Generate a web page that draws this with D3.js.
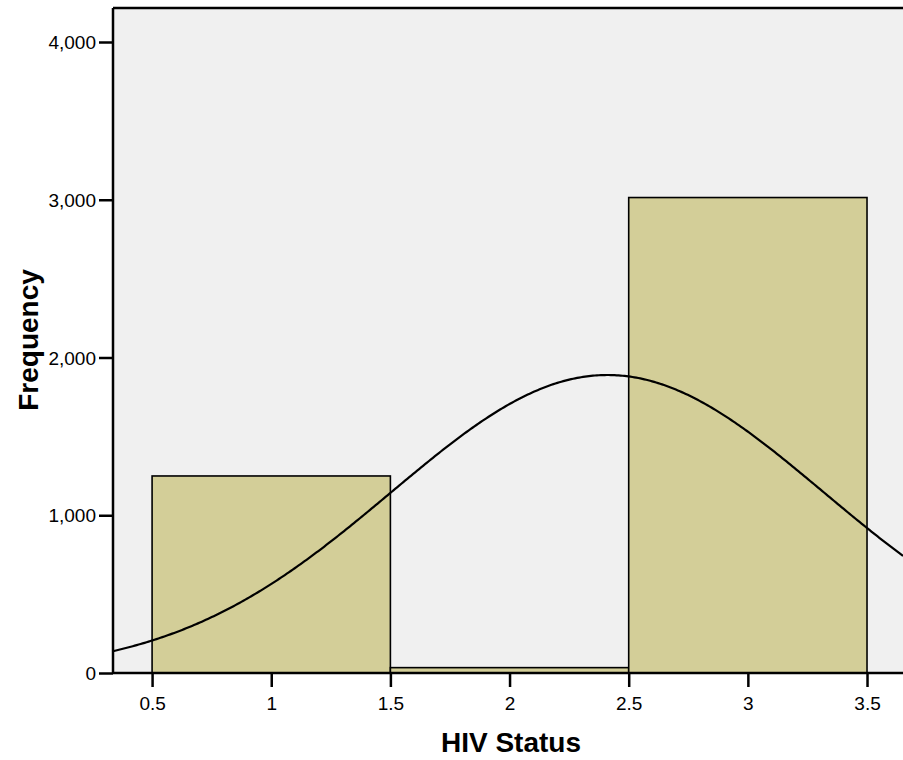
<!DOCTYPE html>
<html>
<head>
<meta charset="utf-8">
<script src="https://cdn.jsdelivr.net/npm/d3@7"></script>
<style>
  body { margin: 0; background: #fff; }
  svg { display: block; font-family: "Liberation Sans", Arial, sans-serif; }
</style>
</head>
<body>
<svg id="chart"></svg>
<script>
// Histogram bins (HIV Status) and their frequencies
const binStarts = [0.5, 1.5, 2.5];
const binEnds = [1.5, 2.5, 3.5];
const binMids = [1, 2, 3];
const frequencies = [1249, 34, 3014];
const xTicks = [0.5, 1, 1.5, 2, 2.5, 3, 3.5];
const yTicks = [0, 1000, 2000, 3000, 4000];

const width = 903;
const height = 760;
const margin = { top: 8, right: 0, bottom: 87, left: 113 };
const baseY = height - margin.bottom;

const svg = d3.select('#chart').attr('width', width).attr('height', height);

const x = d3.scaleLinear()
  .domain([0.336, 3.651])
  .range([margin.left, width - margin.right]);

const y = d3.scaleLinear()
  .domain([0, 4000])
  .range([baseY, 42]);

// Plot background
svg.append('rect')
  .attr('x', margin.left)
  .attr('y', margin.top)
  .attr('width', width - margin.left - margin.right)
  .attr('height', baseY - margin.top)
  .attr('fill', '#f0f0f0');

svg.append('clipPath').attr('id', 'plot-clip')
  .append('rect')
  .attr('x', margin.left)
  .attr('y', margin.top)
  .attr('width', width - margin.left)
  .attr('height', baseY - margin.top);

// Bars
const bins = frequencies.map((f, i) => ({ x0: binStarts[i], x1: binEnds[i], f }));
svg.append('g')
  .selectAll('rect')
  .data(bins)
  .enter()
  .append('rect')
  .attr('x', (d) => x(d.x0))
  .attr('y', (d) => y(d.f))
  .attr('width', (d) => x(d.x1) - x(d.x0))
  .attr('height', (d) => y(0) - y(d.f))
  .attr('fill', '#d3ce98')
  .attr('stroke', '#000')
  .attr('stroke-width', 1.6);

// Normal curve fitted to the binned data
const n = d3.sum(frequencies);
const mean = d3.sum(frequencies.map((f, i) => f * binMids[i])) / n;
const ss = d3.sum(frequencies.map((f, i) => f * (binMids[i] - mean) ** 2));
const sd = Math.sqrt(ss / (n - 1));
const binWidth = 1;
const curvePts = d3.range(0, 401).map((i) => {
  const xv = x.domain()[0] + (x.domain()[1] - x.domain()[0]) * i / 400;
  const z = (xv - mean) / sd;
  return [xv, n * binWidth * Math.exp(-0.5 * z * z) / (sd * Math.sqrt(2 * Math.PI))];
});

svg.append('path')
  .datum(curvePts)
  .attr('clip-path', 'url(#plot-clip)')
  .attr('fill', 'none')
  .attr('stroke', '#000')
  .attr('stroke-width', 2.2)
  .attr('d', d3.line().x((d) => x(d[0])).y((d) => y(d[1])));

// Top border of plot area
svg.append('line')
  .attr('x1', margin.left).attr('x2', width)
  .attr('y1', margin.top).attr('y2', margin.top)
  .attr('stroke', '#000').attr('stroke-width', 2.5);

// Axes
const yAxis = d3.axisLeft(y)
  .tickValues(yTicks)
  .tickSize(14)
  .tickPadding(3)
  .tickFormat(d3.format(','));

const gy = svg.append('g')
  .attr('transform', `translate(${margin.left},0)`)
  .call(yAxis);
gy.attr('font-family', null);
gy.select('.domain').attr('stroke-width', 2.5).attr('d', `M0,${margin.top}V${baseY}`);
gy.selectAll('.tick line').attr('stroke-width', 2.5);
gy.selectAll('.tick text').attr('font-size', 19).attr('fill', '#000').attr('dy', '0.35em');

const xAxis = d3.axisBottom(x)
  .tickValues(xTicks)
  .tickSize(14)
  .tickPadding(9.5)
  .tickFormat((d) => d);

const gx = svg.append('g')
  .attr('transform', `translate(0,${baseY})`)
  .call(xAxis);
gx.attr('font-family', null);
gx.select('.domain').attr('stroke-width', 2.5).attr('d', `M${margin.left},0H${width}`);
gx.selectAll('.tick line').attr('stroke-width', 2.5);
gx.selectAll('.tick text').attr('font-size', 19).attr('fill', '#000');

// Axis titles
svg.append('text')
  .attr('x', 511)
  .attr('y', 752)
  .attr('text-anchor', 'middle')
  .attr('font-size', 28)
  .attr('font-weight', 'bold')
  .text('HIV Status');

svg.append('text')
  .attr('transform', 'translate(38,340) rotate(-90)')
  .attr('text-anchor', 'middle')
  .attr('font-size', 28)
  .attr('font-weight', 'bold')
  .text('Frequency');
</script>
</body>
</html>
